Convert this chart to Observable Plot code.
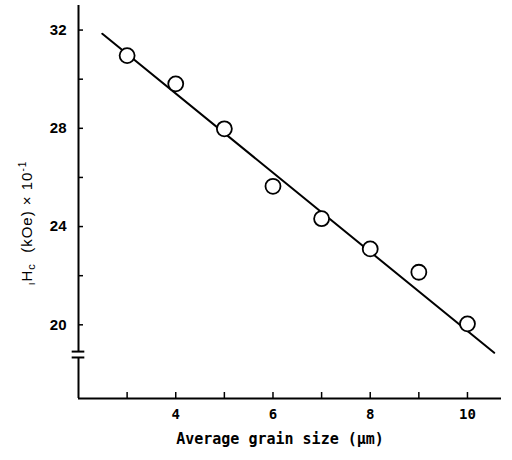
<!DOCTYPE html>
<html>
<head>
<meta charset="utf-8">
<script src="https://cdn.jsdelivr.net/npm/d3@7"></script>
<script src="https://cdn.jsdelivr.net/npm/@observablehq/plot@0.6"></script>
<style>
  html, body { margin: 0; padding: 0; background: white; }
  #chart svg { display: block; }
</style>
</head>
<body>
<div id="chart"></div>
<script>
// Data
const grainSize = [3, 4, 5, 6, 7, 8, 9, 10];
const coercivity = [30.96, 29.81, 27.98, 25.64, 24.32, 23.09, 22.14, 20.04];
// fitted straight line end points
const fitX = [2.49, 10.55];
const fitY = [31.85, 18.86];
// axis ticks and labels
const xTicks = [3, 4, 5, 6, 7, 8, 9, 10];
const xTickLabels = [4, 6, 8, 10];
const yTicks = [20, 22, 24, 26, 28, 30, 32];
const yTickLabels = [20, 24, 28, 32];
// axis break on the y axis
const yBreak = [18.91, 18.67];
const xDomain = [2, 10.7];
const yDomain = [17, 33];
const xTitle = "Average grain size (\u03bcm)";

const points = grainSize.map((g, i) => ({g, h: coercivity[i]}));
const fit = fitX.map((x, i) => ({x, y: fitY[i]}));
const yAxisSegments = [
  {x: xDomain[0], y1: yDomain[1], y2: yBreak[0]},
  {x: xDomain[0], y1: yBreak[1], y2: yDomain[0]}
];
const breakMarks = yBreak.map(y => ({y, x1: xDomain[0] - 0.13, x2: xDomain[0] + 0.13}));

const mono = "'DejaVu Sans Mono', monospace";
const sans = "'Liberation Sans', Arial, sans-serif";

const chart = Plot.plot({
  width: 512,
  height: 460,
  marginLeft: 78,
  marginRight: 11,
  marginTop: 5,
  marginBottom: 62,
  style: {background: "white", color: "black"},
  x: {domain: xDomain, label: null},
  y: {domain: yDomain, label: null},
  marks: [
    Plot.ruleX(yAxisSegments, {x: "x", y1: "y1", y2: "y2", stroke: "black", strokeWidth: 2}),
    Plot.ruleY([yDomain[0]], {x1: xDomain[0], x2: xDomain[1], stroke: "black", strokeWidth: 2}),
    Plot.ruleY(breakMarks, {y: "y", x1: "x1", x2: "x2", stroke: "black", strokeWidth: 2}),
    Plot.axisY({ticks: yTicks, tickSize: -5, tickFormat: () => "", strokeWidth: 1.5, label: null}),
    Plot.axisY({ticks: yTickLabels, tickSize: 0, tickPadding: 12, fontSize: 15, fontWeight: "bold", fontFamily: sans, label: null}),
    Plot.axisX({ticks: xTicks, tickSize: -6, tickFormat: () => "", strokeWidth: 1.5, label: null}),
    Plot.axisX({ticks: xTickLabels, tickSize: 0, tickPadding: 11, fontSize: 14, fontWeight: "bold", fontFamily: mono, label: null}),
    Plot.line(fit, {x: "x", y: "y", stroke: "black", strokeWidth: 2}),
    Plot.dot(points, {x: "g", y: "h", r: 7.5, fill: "white", stroke: "black", strokeWidth: 1.8}),
    Plot.text([xTitle], {frameAnchor: "bottom", text: d => d, dx: -10, dy: 45, fontSize: 15, fontWeight: "bold", fontFamily: mono, fill: "black"})
  ]
});

document.getElementById("chart").appendChild(chart);

// rotated y-axis title with subscripts and superscript
const svg = d3.select(chart);
const t = svg.append("text")
  .attr("transform", "translate(32,223) rotate(-90)")
  .attr("text-anchor", "middle")
  .attr("font-family", sans)
  .attr("font-size", 15)
  .attr("letter-spacing", 1)
  .attr("fill", "black");
t.append("tspan").attr("font-size", 10).attr("dy", 3).text("\u0131");
t.append("tspan").attr("dy", -3).text("H");
t.append("tspan").attr("font-size", 11).attr("dy", 3).text("c");
t.append("tspan").attr("dy", -3).text("\u00a0\u00a0(kOe)\u00a0\u00d7\u00a010");
t.append("tspan").attr("font-size", 10).attr("dy", -6).text("-1");
</script>
</body>
</html>
